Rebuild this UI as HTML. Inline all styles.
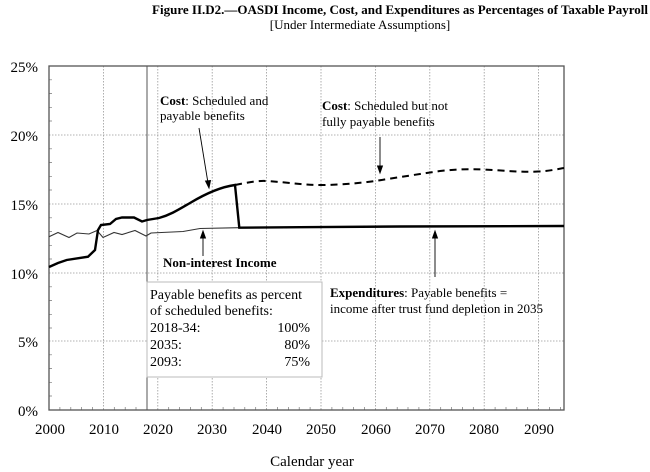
<!DOCTYPE html>
<html><head><style>
html,body{margin:0;padding:0;background:#fff;}
svg{display:block;font-family:"Liberation Serif",serif;}
</style></head><body>
<svg width="650" height="472" viewBox="0 0 650 472" xmlns="http://www.w3.org/2000/svg">
<text x="648" y="14" text-anchor="end" font-size="13" font-weight="bold">Figure II.D2.—OASDI Income, Cost, and Expenditures as Percentages of Taxable Payroll</text>
<text x="360" y="29" text-anchor="middle" font-size="13">[Under Intermediate Assumptions]</text>
<g stroke="#999" stroke-width="0.8" stroke-dasharray="1.5,1.5" fill="none">
<line x1="49" y1="135" x2="564" y2="135"/>
<line x1="49" y1="204" x2="564" y2="204"/>
<line x1="49" y1="273" x2="564" y2="273"/>
<line x1="49" y1="341" x2="564" y2="341"/>
<line x1="103.4" y1="66" x2="103.4" y2="410"/>
<line x1="157.8" y1="66" x2="157.8" y2="410"/>
<line x1="212.2" y1="66" x2="212.2" y2="410"/>
<line x1="266.6" y1="66" x2="266.6" y2="410"/>
<line x1="321" y1="66" x2="321" y2="410"/>
<line x1="375.4" y1="66" x2="375.4" y2="410"/>
<line x1="429.8" y1="66" x2="429.8" y2="410"/>
<line x1="484.2" y1="66" x2="484.2" y2="410"/>
<line x1="538.6" y1="66" x2="538.6" y2="410"/>
</g>
<g stroke="#777" stroke-width="0.7">
<path d="M49,79.8h3M49,93.5h3M49,107.3h3M49,121h3M49,148.8h3M49,162.5h3M49,176.3h3M49,190h3M49,217.8h3M49,231.5h3M49,245.3h3M49,259h3M49,286.8h3M49,300.5h3M49,314.3h3M49,328h3M49,354.8h3M49,368.5h3M49,382.3h3M49,396h3"/>
<path d="M59.9,410v-3M70.8,410v-3M81.6,410v-3M92.5,410v-3M114.3,410v-3M125.2,410v-3M136,410v-3M146.9,410v-3M168.7,410v-3M179.6,410v-3M190.4,410v-3M201.3,410v-3M223.1,410v-3M234,410v-3M244.8,410v-3M255.7,410v-3M277.5,410v-3M288.4,410v-3M299.2,410v-3M310.1,410v-3M331.9,410v-3M342.8,410v-3M353.6,410v-3M364.5,410v-3M386.3,410v-3M397.2,410v-3M408,410v-3M418.9,410v-3M440.7,410v-3M451.6,410v-3M462.4,410v-3M473.3,410v-3M495.1,410v-3M506,410v-3M516.8,410v-3M527.7,410v-3M549.5,410v-3M560.4,410v-3"/>
</g>
<rect x="49" y="66" width="515" height="344" fill="none" stroke="#555" stroke-width="1.3"/>
<line x1="147" y1="66" x2="147" y2="410" stroke="#555" stroke-width="1"/>
<g font-size="15" text-anchor="end">
<text x="38" y="72">25%</text><text x="38" y="141">20%</text><text x="38" y="210">15%</text>
<text x="38" y="279">10%</text><text x="38" y="347">5%</text><text x="38" y="416">0%</text>
</g>
<g font-size="15" text-anchor="middle">
<text x="50" y="434">2000</text><text x="104" y="434">2010</text><text x="158" y="434">2020</text>
<text x="212" y="434">2030</text><text x="267" y="434">2040</text><text x="321" y="434">2050</text>
<text x="376" y="434">2060</text><text x="430" y="434">2070</text><text x="484" y="434">2080</text>
<text x="539" y="434">2090</text>
<text x="312" y="466">Calendar year</text>
</g>
<polyline fill="none" stroke="#333" stroke-width="1.1" points="49,236.7 58,232.5 69,237.5 77,233 89,234 97,230.5 103,237.5 114,232.5 122,234.5 135,230.5 146,236 151,233 183,231.5 200,228.5 239,227.7"/>
<path fill="none" stroke="#000" stroke-width="2.4" d="M49,267 L58,263 66.7,260 L88,256.7 L95,250 L98,230 L101,225 L110,224 L116,219 L122,217.5 L134,217.5 L142,221.5 L147,220 L159,218 C170,215 178,210 190,203 C205,194 220,187 235,185 L239.3,227.7 L300,227.2 L400,226.5 L564,226"/>
<path fill="none" stroke="#000" stroke-width="2" stroke-dasharray="7,5" d="M235,185 C250,182 258,180.5 267,181 C290,182.5 305,185.5 325,185 C345,184.5 360,183 375.4,181 C400,177 420,174 440,171 C460,169 470,169 484,169.5 C505,170.5 520,172.5 538,171.5 C550,171 558,169 564,168"/>
<g font-size="13">
<text x="160" y="105"><tspan font-weight="bold">Cost</tspan>: Scheduled and</text>
<text x="160" y="120">payable benefits</text>
<text x="322" y="110"><tspan font-weight="bold">Cost</tspan>: Scheduled but not</text>
<text x="322" y="126">fully payable benefits</text>
<text x="163" y="267" font-weight="bold">Non-interest Income</text>
<text x="330" y="297"><tspan font-weight="bold">Expenditures</tspan>: Payable benefits =</text>
<text x="330" y="313">income after trust fund depletion in 2035</text>
</g>
<g stroke="#000" stroke-width="0.9" fill="#000">
<line x1="199" y1="128" x2="208" y2="183"/><polygon points="209,188 205.5,181 210.5,180.5"/>
<line x1="380" y1="137" x2="380" y2="168"/><polygon points="380,173 377.5,166 382.5,166"/>
<line x1="203" y1="256" x2="203" y2="236"/><polygon points="203,231 200.5,238 205.5,238"/>
<line x1="435" y1="277" x2="435" y2="236"/><polygon points="435,231 432.5,238 437.5,238"/>
</g>
<rect x="147" y="282" width="175" height="95" fill="#fff" stroke="#bbb" stroke-width="1"/>
<g font-size="14">
<text x="150" y="299">Payable benefits as percent</text>
<text x="150" y="315">of scheduled benefits:</text>
<text x="150" y="332">2018-34:</text><text x="310" y="332" text-anchor="end">100%</text>
<text x="150" y="349">2035:</text><text x="310" y="349" text-anchor="end">80%</text>
<text x="150" y="366">2093:</text><text x="310" y="366" text-anchor="end">75%</text>
</g>
</svg>
</body></html>
